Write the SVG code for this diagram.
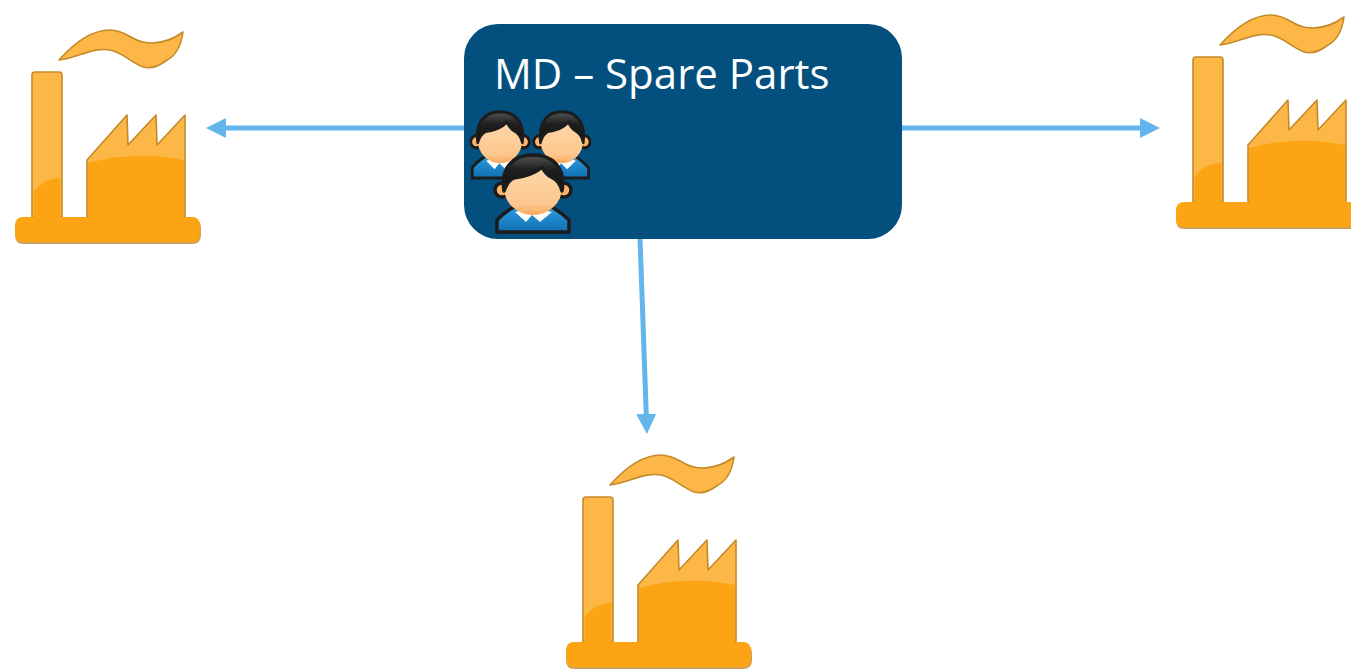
<svg xmlns="http://www.w3.org/2000/svg" xmlns:xlink="http://www.w3.org/1999/xlink" width="1351" height="669" viewBox="0 0 1351 669">
<style>
.fo{stroke:#c48a2a;stroke-width:1.6;stroke-linejoin:round}
.lt{fill:#fdb746}
.dk{fill:#fca413}
.cn{stroke:#63b5ec;stroke-width:5;fill:none}
.ol{stroke:#1c1c1c;stroke-width:3.500;stroke-linejoin:round}
.lb{font-family:"Open Sans","Noto Sans",sans-serif;font-size:42px;fill:#fff}
</style>
<defs>
<marker id="ah" markerUnits="userSpaceOnUse" markerWidth="22" markerHeight="22" refX="10" refY="10" orient="auto"><path d="M0,0L20,10L0,20Z" fill="#63b5ec"/></marker>
<linearGradient id="sk" x1="0" y1="0" x2="0" y2="1"><stop offset="0" stop-color="#fdd9ae"/><stop offset=".8" stop-color="#fdc88e"/><stop offset="1" stop-color="#f9a85a"/></linearGradient>
<linearGradient id="sh" x1="0" y1="0" x2="0" y2="1"><stop offset="0" stop-color="#2b9be0"/><stop offset="1" stop-color="#0f6fb0"/></linearGradient>
<linearGradient id="hr" x1="0" y1="0" x2="0" y2="1"><stop offset="0" stop-color="#555"/><stop offset=".4" stop-color="#1f1f1f"/><stop offset="1" stop-color="#111"/></linearGradient>
<symbol id="factory" overflow="visible" viewBox="0 0 220 260" width="220" height="260">
<path class="fo lt" d="M59,60C75,42 92,30 110,30C125,30 132,40 143,42C158,45 172,40 183,32C181,46 175,56 167,60C158,67 150,69 143,67C130,62 122,52 110,50C92,47 78,58 59,60Z"/>
<path class="fo lt" d="M32,217V75Q32,72 35,72H59Q62,72 62,75V217Z"/>
<path class="dk" d="M33.500,217V192Q44,178 60.500,178V217Z"/>
<path class="fo lt" d="M87,217V160L127,115L128,145L156,115L157,145L185,115V217Z"/>
<path class="dk" d="M88,217V163Q135,150 184,160V217Z"/>
<path d="M23,219H192Q201,219 201,228V235Q201,244 192,244H23Q15,244 15,235V228Q15,219 23,219Z" fill="#c48a2a" opacity=".8"/>
<path class="dk" d="M23,217H192Q200,217 200,226V233Q200,242 192,242H23Q15,242 15,233V226Q15,217 23,217Z"/>
</symbol>
<symbol id="person" overflow="visible" viewBox="0 0 80 84" width="80" height="84">
<path class="ol" fill="url(#sh)" d="M3,79V67Q9,60 20,54H58Q68,60 75,67V79Z"/>
<path d="M21,59L32,69L38,62L46,69L58,59L46,56H32Z" fill="#fff"/>
<circle class="ol" cx="8" cy="37" r="7" fill="#fdb368"/>
<circle class="ol" cx="70" cy="37" r="7" fill="#fdb368"/>
<ellipse cx="39" cy="35" rx="29" ry="27" fill="url(#sk)"/>
<path class="ol" fill="url(#hr)" d="M10,38C6,14 20,2 39,2C58,2 72,14 68,38C66,30 62,26 57,24C53,22 50,18 48,14C42,20 30,24 20,25C15,27 12,32 10,38Z"/>
</symbol>
</defs>
<rect width="1351" height="669" fill="#fff"/>
<g id="connectors">
<path class="cn" marker-end="url(#ah)" d="M464,128H216"/>
<path class="cn" marker-end="url(#ah)" d="M902,128H1150"/>
<path class="cn" marker-end="url(#ah)" d="M640,238L646.600,424"/>
</g>
<g id="factory-left"><use xlink:href="#factory" href="#factory" x="0" y="0"/></g>
<g id="factory-right"><use xlink:href="#factory" href="#factory" x="1161" y="-15"/></g>
<g id="factory-bottom"><use xlink:href="#factory" href="#factory" x="551" y="425"/></g>
<g id="md-spare-parts">
<rect x="464" y="24" width="438" height="215" rx="34" fill="#03507f"/>
<text class="lb" x="494" y="89">MD – Spare Parts</text>
<g id="people">
<use href="#person" xlink:href="#person" transform="translate(470,110) scale(.77,.86)"/>
<use href="#person" xlink:href="#person" transform="translate(533,110) scale(.74,.86)"/>
<use href="#person" xlink:href="#person" transform="translate(494,153)"/>
</g>
</g>
</svg>
